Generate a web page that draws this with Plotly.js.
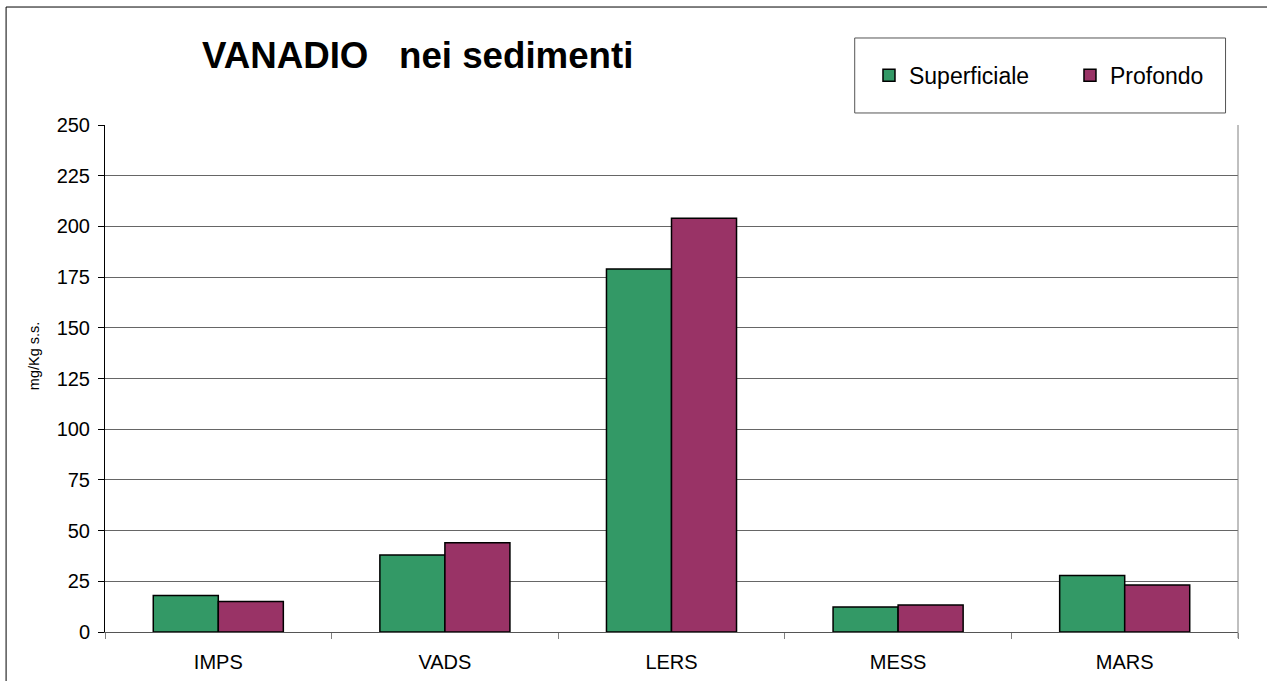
<!DOCTYPE html>
<html>
<head>
<meta charset="utf-8">
<script src="https://cdn.plot.ly/plotly-3.0.1.min.js"></script>
<style>
  html, body { margin: 0; padding: 0; background: #ffffff; overflow: hidden; }
  #chart { width: 1267px; height: 681px; }
</style>
</head>
<body>
<div id="chart"></div>
<script>
// Sampling stations
const stations = ['IMPS', 'VADS', 'LERS', 'MESS', 'MARS'];
// Vanadium concentration, mg/Kg dry weight
const superficiale = [18, 38, 179, 12.3, 27.8];
const profondo = [15, 44, 204, 13.3, 23.2];
const yTicks = [0, 25, 50, 75, 100, 125, 150, 175, 200, 225, 250];

const FONT = 'Arial, "Liberation Sans", sans-serif';

const traces = [
  {
    type: 'bar',
    name: 'Superficiale',
    x: stations,
    y: superficiale,
    marker: { color: '#339966', line: { color: '#000000', width: 1.5 } },
    hoverinfo: 'x+y+name'
  },
  {
    type: 'bar',
    name: 'Profondo',
    x: stations,
    y: profondo,
    marker: { color: '#993366', line: { color: '#000000', width: 1.5 } },
    hoverinfo: 'x+y+name'
  }
];

const layout = {
  width: 1267,
  height: 681,
  margin: { l: 105, r: 29, t: 125, b: 49, pad: 0, autoexpand: false },
  paper_bgcolor: '#ffffff',
  plot_bgcolor: '#ffffff',
  font: { family: FONT, color: '#000000', size: 20 },
  barmode: 'group',
  bargap: 0.426,
  bargroupgap: 0,
  title: {
    text: '<b>VANADIO&nbsp;&nbsp;&nbsp;nei sedimenti</b>',
    font: { family: FONT, size: 36.7, color: '#000000' },
    xref: 'paper',
    x: 0.276,
    xanchor: 'center',
    yref: 'container',
    y: 0.919,
    yanchor: 'middle'
  },
  xaxis: {
    type: 'category',
    tickson: 'boundaries',
    ticks: 'outside',
    ticklen: 6,
    tickcolor: '#808080',
    ticklabelstandoff: 12,
    showline: true,
    linecolor: '#555555',
    linewidth: 1,
    showgrid: false,
    zeroline: false,
    tickfont: { family: FONT, size: 20, color: '#000000' },
    automargin: false,
    fixedrange: true
  },
  yaxis: {
    range: [0, 250],
    tickmode: 'array',
    tickvals: yTicks,
    ticktext: yTicks.map(String),
    ticks: 'outside',
    ticklen: 6,
    tickcolor: '#000000',
    ticklabelstandoff: 4,
    showline: true,
    linecolor: '#000000',
    linewidth: 1,
    showgrid: true,
    gridcolor: '#666666',
    gridwidth: 1,
    zeroline: false,
    tickfont: { family: FONT, size: 20, color: '#000000' },
    automargin: false,
    fixedrange: true
  },
  showlegend: true,
  legend: {
    orientation: 'h',
    x: 0.6743,
    xanchor: 'left',
    y: 1.098,
    yanchor: 'middle',
    bgcolor: 'rgba(0,0,0,0)',
    borderwidth: 0,
    font: { family: FONT, size: 23, color: '#000000' },
    entrywidth: 156,
    itemwidth: 30,
    traceorder: 'normal'
  },
  annotations: [
    {
      text: 'mg/Kg s.s.',
      textangle: -90,
      xref: 'paper',
      yref: 'paper',
      x: -0.0627,
      y: 0.546,
      xanchor: 'center',
      yanchor: 'middle',
      showarrow: false,
      font: { family: FONT, size: 14.5, color: '#000000' }
    }
  ],
  shapes: [
    // outer chart frame: top and left edges
    {
      type: 'line', xref: 'paper', yref: 'paper',
      x0: -0.0873, x1: 1.03, y0: 1.2327, y1: 1.2327,
      line: { color: '#000000', width: 1 }
    },
    {
      type: 'line', xref: 'paper', yref: 'paper',
      x0: -0.0873, x1: -0.0873, y0: -0.1, y1: 1.2327,
      line: { color: '#000000', width: 1 }
    },
    // legend frame
    {
      type: 'rect', xref: 'paper', yref: 'paper',
      x0: 0.6617, x1: 0.989, y0: 1.0237, y1: 1.1716,
      line: { color: '#555555', width: 1 }, fillcolor: 'rgba(0,0,0,0)', layer: 'below'
    },
    // right edge of the plot area
    {
      type: 'line', xref: 'paper', yref: 'paper',
      x0: 1, x1: 1, y0: -0.012, y1: 1,
      line: { color: '#808080', width: 1 }
    }
  ]
};

Plotly.newPlot('chart', traces, layout, { displayModeBar: false, staticPlot: true });
</script>
</body>
</html>
